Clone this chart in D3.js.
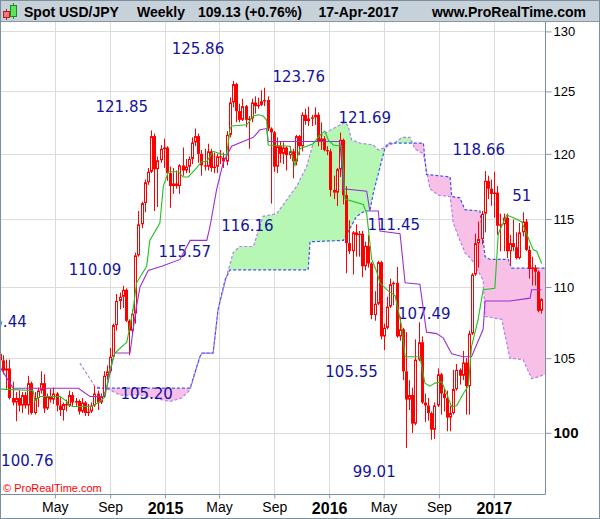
<!DOCTYPE html>
<html>
<head>
<meta charset="utf-8">
<script src="https://cdn.jsdelivr.net/npm/d3@7"></script>
<style>
    body { margin: 0; background: #fff; }
    svg { display: block; font-family: "Liberation Sans", Arial, sans-serif; }
</style>
</head>
<body>
<div id="chart"></div>
<script>
"use strict";

// weekly candles, first week starts Mon 30-Dec-2013
const firstWeek = Date.UTC(2013, 11, 30);

const opens = [105.3,104.85,104.15,104.3,102.3,102.0,102.3,101.8,102.5,101.8,103.3,101.3,102.3,102.8,103.3,101.6,102.4,102.2,102.6,101.8,
    101.5,101.9,101.8,102.5,102.0,102.1,101.4,102.0,101.3,101.4,101.8,102.6,102.0,102.4,103.8,104.1,105.1,107.3,109.0,109.3,
    109.8,107.6,106.9,108.1,112.3,114.6,116.2,117.8,118.6,121.4,118.8,119.5,120.4,120.5,118.5,117.5,117.7,117.5,119.1,118.7,
    119.0,119.6,120.9,121.4,120.0,119.1,119.0,120.2,118.9,119.0,119.8,119.7,119.4,121.5,124.1,125.6,123.4,122.7,123.8,122.7,
    122.8,124.1,123.8,123.9,124.2,124.3,122.0,121.7,119.0,120.6,120.0,120.5,119.9,120.2,119.4,121.4,120.6,123.1,122.6,122.8,
    122.9,123.1,121.0,121.2,120.3,120.2,117.2,117.0,118.8,121.1,116.8,113.2,112.6,114.0,113.8,113.9,111.5,113.0,111.7,108.0,
    108.8,111.8,106.5,107.1,108.6,110.2,110.3,106.5,107.0,104.1,102.2,102.5,100.6,104.9,106.1,102.0,101.8,101.3,100.2,101.8,
    103.9,102.6,102.3,101.0,101.3,102.9,104.2,103.8,104.7,103.1,106.7,110.9,113.2,113.5,115.4,117.9,117.3,116.9,117.0,114.5,
    114.6,115.1,112.6,113.2,112.9,112.1,114.0,114.8,112.7,111.3,111.4,111.1,108.3];
const highs = [105.44,105.2,104.9,104.9,103.4,102.7,102.8,102.7,102.7,103.8,103.4,102.7,103.0,104.1,103.9,102.6,102.9,103.0,102.7,102.4,
    102.0,102.2,102.8,102.7,102.3,102.2,102.3,102.1,101.9,102.0,103.1,102.8,102.6,104.1,104.5,105.7,107.4,109.5,109.6,110.09,
    109.9,107.7,108.4,112.5,115.6,116.3,118.0,118.9,121.85,121.6,119.8,120.7,121.2,120.6,119.0,118.9,118.7,119.2,120.5,119.6,
    119.8,121.3,122.0,121.6,120.3,120.4,120.8,120.4,120.1,120.0,120.3,120.1,121.8,124.5,125.86,125.7,124.0,124.4,123.9,123.0,
    124.4,124.6,124.5,125.1,125.3,124.6,122.1,121.8,121.3,121.0,120.9,120.6,120.6,120.4,121.5,121.5,123.3,123.6,123.76,123.1,
    123.7,123.3,122.5,121.4,120.6,120.4,118.3,118.9,121.69,121.2,117.5,114.9,114.1,114.6,114.1,114.1,113.3,113.8,111.8,109.7,
    111.9,111.9,107.4,109.3,110.6,110.4,111.45,107.9,107.1,106.8,103.5,103.0,106.3,107.49,106.5,102.6,102.3,101.4,102.0,104.3,
    104.0,102.9,102.8,101.8,104.2,104.6,104.3,105.5,105.0,106.9,111.0,113.9,114.8,115.6,118.66,118.3,118.0,118.6,117.5,115.4,
    115.4,115.4,113.8,114.95,114.0,114.7,115.5,115.0,113.0,112.2,111.6,111.2,109.2];
const lows = [104.2,103.9,102.85,102.2,101.8,100.76,101.4,101.3,101.6,101.2,101.2,101.2,101.7,102.6,101.3,101.5,102.0,101.9,101.4,101.1,
    100.8,101.4,101.7,101.7,101.7,101.2,101.3,101.1,101.1,101.3,101.7,101.5,101.9,102.3,103.5,104.0,105.0,106.9,108.4,108.5,
    107.5,105.2,106.6,107.4,112.2,114.3,115.5,117.6,118.5,115.6,115.9,119.3,118.9,117.9,115.85,116.9,117.3,116.9,118.3,118.5,
    118.5,119.2,120.6,119.3,118.3,118.7,118.7,118.6,118.5,118.5,119.2,118.9,119.1,121.3,123.7,122.5,122.5,122.6,122.1,120.4,
    122.5,123.2,123.6,123.8,123.8,121.8,116.16,118.6,118.5,119.3,119.2,118.7,119.6,118.1,119.1,119.9,120.2,122.3,122.2,122.2,
    122.3,120.6,120.3,120.2,119.9,116.7,116.5,115.98,118.2,116.1,110.99,112.4,110.9,112.2,112.2,110.7,111.2,111.4,107.7,107.6,
    108.7,106.3,105.55,107.0,108.5,108.7,106.4,106.2,103.5,99.01,101.5,99.99,100.5,104.8,101.9,100.7,100.8,99.55,99.6,101.7,
    101.2,101.4,100.1,100.1,101.2,102.8,103.2,103.5,101.2,101.2,106.6,110.8,111.4,113.1,114.0,116.5,116.0,115.1,113.8,112.6,
    112.6,112.1,111.6,112.6,112.0,112.0,113.7,112.6,110.6,110.1,110.1,108.2,108.1];
const closes = [104.85,104.15,104.3,102.3,102.0,102.3,101.8,102.5,101.8,103.3,101.3,102.3,102.8,103.3,101.6,102.4,102.2,102.6,101.8,101.5,
    101.9,101.8,102.5,102.0,102.1,101.4,102.0,101.3,101.4,101.8,102.6,102.0,102.4,103.8,104.1,105.1,107.3,109.0,109.3,109.8,
    107.6,106.9,108.1,112.3,114.6,116.2,117.8,118.6,121.4,118.8,119.5,120.4,120.5,118.5,117.5,117.7,117.5,119.1,118.7,119.0,
    119.6,120.9,121.4,120.0,119.1,119.0,120.2,118.9,119.0,119.8,119.7,119.4,121.5,124.1,125.6,123.4,122.7,123.8,122.7,122.8,
    124.1,123.8,123.9,124.2,124.3,122.0,121.7,119.0,120.6,120.0,120.5,119.9,120.2,119.4,121.4,120.6,123.1,122.6,122.8,122.9,
    123.1,121.0,121.2,120.3,120.2,117.2,117.0,118.8,121.1,116.8,113.2,112.6,114.0,113.8,113.9,111.5,113.0,111.7,108.0,108.8,
    111.8,106.5,107.1,108.6,110.2,110.3,106.5,107.0,104.1,102.2,102.5,100.6,104.9,106.1,102.0,101.8,101.3,100.2,101.8,103.9,
    102.6,102.3,101.0,101.3,102.9,104.2,103.8,104.7,103.1,106.7,110.9,113.2,113.5,115.4,117.9,117.3,116.9,117.0,114.5,114.6,
    115.1,112.6,113.2,112.9,112.1,114.0,114.8,112.7,111.3,111.4,111.1,108.3,109.13];

// ichimoku lines: [week index, price]
const tenkanPts = [[0,102.9],[10.5,102.8],[11.1,102.1],[12.7,102.4],[19.1,102.4],[21.3,102.07],[21.6,101.85],[23.2,101.73],
    [29.2,101.73],[31.8,102.07],[33.4,102.4],[34.9,104.2],[36.5,105.35],[40.3,106.1],[42.3,108.4],[43.4,110.3],[46.6,111.5],
    [47.6,113.4],[50.8,114.7],[51.9,117.5],[53.5,118.6],[56.6,118.6],[58.2,118.2],[59.8,118.2],[62.5,118.9],[64.1,119.4],
    [65.7,119.4],[67.8,120.2],[70.0,120.0],[72.0,119.9],[73.1,122.0],[73.6,122.2],[78.4,122.3],[80.5,123.0],[82.1,123.1],
    [83.6,123.0],[84.7,122.7],[85.2,120.7],[92.1,120.6],[93.7,119.1],[95.3,120.4],[99.5,120.8],[101.7,121.5],[103.2,121.8],
    [104.3,121.1],[105.9,120.7],[108.5,120.6],[109.1,118.8],[109.6,116.5],[115.4,116.1],[116.5,115.4],[118.1,112.0],
    [119.7,111.1],[120.7,110.3],[123.4,109.7],[125.5,109.4],[127.6,107.2],[128.7,105.1],[133.4,105.1],[135.0,103.3],
    [136.6,103.1],[138.2,103.3],[140.3,103.4],[141.9,102.6],[143.5,101.7],[145.1,101.8],[147.2,102.6],[148.8,103.1],
    [149.8,105.8],[151.9,107.7],[153.5,109.8],[157.2,109.9],[158.3,113.9],[161.0,115.3],[163.1,115.1],[165.7,114.8],
    [167.3,113.9],[169.4,112.7],[170.5,112.6],[172.1,111.7]];
const kijunPts = [[0,104.4],[4.2,102.96],[24.9,102.96],[28.6,102.4],[32.8,102.4],[33.9,102.96],[36.0,105.0],[36.5,105.35],
    [41.3,105.35],[42.3,106.97],[43.2,108.4],[44.5,110.0],[47.1,111.2],[51.4,111.5],[57.2,112.0],[60.4,113.4],[65.7,113.4],
    [66.7,114.4],[68.8,117.2],[70.9,119.3],[73.6,120.6],[78.4,121.1],[80.5,121.3],[82.6,121.9],[84.7,122.0],[85.2,120.97],
    [108.0,120.97],[109.1,117.3],[116.5,117.1],[117.5,115.6],[120.2,115.6],[120.7,114.1],[127.1,113.9],[128.7,110.3],
    [133.4,110.2],[135.5,106.8],[138.7,106.7],[140.8,106.4],[143.5,105.3],[147.2,105.1],[149.8,105.1],[153.5,107.0],
    [154.1,109.0],[162.0,109.0],[168.4,109.2],[168.9,109.8],[172.0,109.8]];
const spanAPts = [[25.4,104.66],[30.2,103.07],[34.9,102.85],[38.1,102.5],[44.5,102.5],[54.0,102.07],[57.7,102.3],[60.4,102.85],
    [63.5,105.1],[64.2,105.35],[67.7,105.35],[69.3,108.4],[72.0,110.8],[74.1,112.5],[76.2,112.95],[80.5,112.95],[83.6,115.2],[87.9,115.4],[91.1,116.45],
    [94.3,117.5],[97.4,119.0],[99.5,120.85],[101.7,121.4],[105.9,122.0],[109.6,122.5],[110.6,122.2],[111.7,121.1],
    [114.4,120.85],[118.6,120.7],[120.2,120.3],[122.3,120.5],[125.5,120.9],[127.7,121.3],[130.2,121.3],[131.3,120.7],
    [131.8,120.4],[134.5,120.0],[136.6,117.3],[139.2,116.8],[143.0,116.7],[144.0,114.7],[146.1,113.4],[147.7,112.5],
    [149.8,112.0],[153.5,110.5],[154.1,107.9],[159.4,107.7],[162.0,105.0],[166.2,104.9],[168.9,103.6],[171.5,103.75],
    [173.7,104.0]];
const spanBPts = [[30.8,102.96],[60.4,102.96],[63.5,105.1],[64.2,105.35],[67.7,105.35],[69.3,108.4],[71.5,110.5],
    [73.1,111.24],[97.9,111.24],[98.5,113.3],[109.1,113.4],[113.3,115.2],[115.9,115.6],[117.5,115.6],[118.6,116.96],
    [121.3,119.5],[122.3,120.45],[123.4,120.85],[134.5,120.85],[135.5,118.4],[143.0,118.2],[143.5,116.7],[146.1,116.6],
    [147.7,115.7],[152.5,115.6],[154.1,112.2],[155.7,112.0],[161.5,112.0],[162.5,111.36],[173.7,111.36]];

// swing labels: text, week index of label centre, price at baseline
const pivotText  = ["105.44","100.76","110.09","105.20","121.85","115.57","125.86","116.16","123.76","121.69","105.55","99.01","111.45","107.49","118.66","51"];
const pivotWeek  = [8.5, 8.7, 30.2, 46.6, 38.7, 58.7, 62.9, 78.6, 94.9, 115.9, 111.7, 118.9, 125.1, 134.8, 152.1, 165.8];
const pivotPrice = [107.19, 97.88, 110.90, 102.25, 123.36, 112.19, 128.08, 114.10, 125.73, 122.42, 103.69, 97.18, 114.16, 107.73, 119.89, 116.35];

const priceTicks = [100, 105, 110, 115, 120, 125, 130];

const W = 600, H = 519;
const plot = {left: 1, right: 545, top: 22, bottom: 494};

const weekDate = i => new Date(firstWeek + i * 7 * 864e5);

const x = d3.scaleUtc()
    .domain([new Date(Date.UTC(2014, 0, 1, 7)), new Date(Date.UTC(2017, 3, 25))])
    .range([plot.left, plot.right]);
const y = d3.scaleLog()
    .domain([96.08, 130.8])
    .range([plot.bottom, plot.top]);

const svg = d3.select("#chart").append("svg")
    .attr("width", W)
    .attr("height", H);

svg.append("rect").attr("width", W).attr("height", H).attr("fill", "#fff");

const defs = svg.append("defs");
defs.append("clipPath").attr("id", "plotClip")
    .append("rect")
    .attr("x", plot.left).attr("y", plot.top)
    .attr("width", plot.right - plot.left).attr("height", plot.bottom - plot.top);

const px = d => x(weekDate(d[0]));
const py = d => y(d[1]);

// cloud clips: above span B / below span B
defs.append("clipPath").attr("id", "aboveB")
    .append("path")
    .attr("d", d3.area().x(px).y0(plot.top - 20).y1(py)(spanBPts));
defs.append("clipPath").attr("id", "belowB")
    .append("path")
    .attr("d", d3.area().x(px).y0(py).y1(plot.bottom + 20)(spanBPts));

const g = svg.append("g").attr("clip-path", "url(#plotClip)");

// grid
const monthTicks = d3.utcMonth.every(4).range(new Date(Date.UTC(2014, 3, 1)), new Date(Date.UTC(2017, 3, 25)));
g.selectAll(".vgrid").data(monthTicks).join("line")
    .attr("x1", d => Math.round(x(d)) + 0.5).attr("x2", d => Math.round(x(d)) + 0.5)
    .attr("y1", plot.top).attr("y2", plot.bottom)
    .attr("stroke", "#dcdcdc").attr("stroke-width", 1);
g.selectAll(".hgrid").data(priceTicks).join("line")
    .attr("x1", plot.left).attr("x2", plot.right)
    .attr("y1", d => Math.round(y(d)) + 0.5).attr("y2", d => Math.round(y(d)) + 0.5)
    .attr("stroke", "#dcdcdc").attr("stroke-width", 1);

// cloud
g.append("path")
    .attr("clip-path", "url(#aboveB)")
    .attr("d", d3.area().x(px).y0(py).y1(plot.bottom + 20)(spanAPts))
    .attr("fill", "#b6f7b4");
g.append("path")
    .attr("clip-path", "url(#belowB)")
    .attr("d", d3.area().x(px).y0(plot.top - 20).y1(py)(spanAPts))
    .attr("fill", "#f8bfe7");

const line = d3.line().x(px).y(py);
g.append("path").attr("d", line(spanAPts))
    .attr("fill", "none").attr("stroke", "#b67ff0").attr("stroke-width", 1.2).attr("stroke-dasharray", "3,2");
g.append("path").attr("d", line(spanBPts))
    .attr("fill", "none").attr("stroke", "#3f55e6").attr("stroke-width", 1.2).attr("stroke-dasharray", "3,2");

// swing labels
g.selectAll(".pivot").data(pivotText).join("text")
    .attr("x", (d, i) => x(weekDate(pivotWeek[i])))
    .attr("y", (d, i) => y(pivotPrice[i]))
    .attr("text-anchor", (d, i) => i === 0 ? "end" : "middle")
    .attr("font-family", "'DejaVu Sans', Verdana, sans-serif")
    .attr("font-size", 15)
    .attr("fill", "#14149a")
    .text(d => d);

// candles
const candles = g.append("g");
closes.forEach((c, i) => {
    const cx = Math.round(x(weekDate(i)));
    const o = opens[i];
    candles.append("line")
        .attr("x1", cx + 0.5).attr("x2", cx + 0.5)
        .attr("y1", y(highs[i])).attr("y2", y(lows[i]))
        .attr("stroke", "#ff0000").attr("stroke-width", 1);
    const top = y(Math.max(o, c)), bot = y(Math.min(o, c));
    if (c >= o) {
        candles.append("rect")
            .attr("x", cx - 0.5).attr("y", top + 0.5)
            .attr("width", 2).attr("height", Math.max(0.5, bot - top - 1))
            .attr("fill", "#fff").attr("stroke", "#ff0000").attr("stroke-width", 1);
    } else {
        candles.append("rect")
            .attr("x", cx - 1).attr("y", top)
            .attr("width", 3).attr("height", Math.max(1, bot - top))
            .attr("fill", "#ff0000");
    }
});

g.append("path").attr("d", line(kijunPts))
    .attr("fill", "none").attr("stroke", "#9c2fd0").attr("stroke-width", 1.1);
g.append("path").attr("d", line(tenkanPts))
    .attr("fill", "none").attr("stroke", "#1fc21f").attr("stroke-width", 1.1);

// frame
svg.append("line").attr("x1", plot.right + 0.5).attr("x2", plot.right + 0.5)
    .attr("y1", plot.top).attr("y2", plot.bottom + 0.5).attr("stroke", "#7d8e9c");
svg.append("line").attr("x1", 0).attr("x2", plot.right + 0.5)
    .attr("y1", plot.bottom + 0.5).attr("y2", plot.bottom + 0.5).attr("stroke", "#7d8e9c");

// right axis
const yAxis = svg.append("g").attr("transform", `translate(${plot.right + 0.5},0)`)
    .call(d3.axisRight(y).tickValues(priceTicks).tickSize(6).tickPadding(2).tickFormat(d3.format("d")));
yAxis.select(".domain").remove();
yAxis.selectAll("line").attr("stroke", "#8a9aa8");
yAxis.selectAll("text")
    .attr("font-family", "'Liberation Sans', Arial, sans-serif")
    .attr("font-size", d => d === 100 ? 15 : 13)
    .attr("font-weight", d => d === 100 ? "bold" : "normal")
    .attr("fill", "#000");

// bottom axis
const xAxis = svg.append("g").attr("transform", `translate(0,${plot.bottom + 0.5})`)
    .call(d3.axisBottom(x).tickValues(monthTicks).tickSize(4).tickPadding(4)
        .tickFormat(d => d.getUTCMonth() === 0 ? d3.utcFormat("%Y")(d) : d3.utcFormat("%b")(d)));
xAxis.select(".domain").remove();
xAxis.selectAll("line").attr("stroke", "#8a9aa8");
xAxis.selectAll("text")
    .attr("font-family", "'Liberation Sans', Arial, sans-serif")
    .attr("font-size", d => d.getUTCMonth() === 0 ? 16 : 14)
    .attr("font-weight", d => d.getUTCMonth() === 0 ? "bold" : "normal")
    .attr("fill", "#000");

// copyright
svg.append("text").attr("x", 3).attr("y", 492)
    .attr("font-size", 11).attr("fill", "#ff0000")
    .text("\u00a9 ProRealTime.com");

// header bar
const head = svg.append("g");
head.append("rect").attr("x", 0).attr("y", 0).attr("width", W).attr("height", 21).attr("fill", "#c7d1da");
head.append("line").attr("x1", 0).attr("x2", W).attr("y1", 21.5).attr("y2", 21.5).attr("stroke", "#8796a5");
// icon
head.append("line").attr("x1", 6.5).attr("x2", 6.5).attr("y1", 9).attr("y2", 20).attr("stroke", "#b02020");
head.append("rect").attr("x", 3.5).attr("y", 11.5).attr("width", 6).attr("height", 6).attr("fill", "#f07a7a").attr("stroke", "#b02020");
head.append("line").attr("x1", 13.5).attr("x2", 13.5).attr("y1", 3).attr("y2", 19).attr("stroke", "#1c8a1c");
head.append("rect").attr("x", 10.5).attr("y", 5.5).attr("width", 6).attr("height", 11).attr("fill", "#5fe35f").attr("stroke", "#1c8a1c");

const headTexts = [["Spot USD/JPY", 24, "start"], ["Weekly", 137, "start"], ["109.13 (+0.76%)", 198, "start"],
    ["17-Apr-2017", 318.5, "start"], ["www.ProRealTime.com", 586, "end"]];
head.selectAll(".ht").data(headTexts).join("text")
    .attr("x", d => d[1]).attr("y", 16.5)
    .attr("text-anchor", d => d[2])
    .attr("font-size", 14).attr("font-weight", "bold").attr("fill", "#000")
    .text(d => d[0]);

// outer border
svg.append("rect").attr("x", 0.5).attr("y", 0.5).attr("width", W - 1).attr("height", H - 1)
    .attr("fill", "none").attr("stroke", "#7d8e9c");
</script>
</body>
</html>
